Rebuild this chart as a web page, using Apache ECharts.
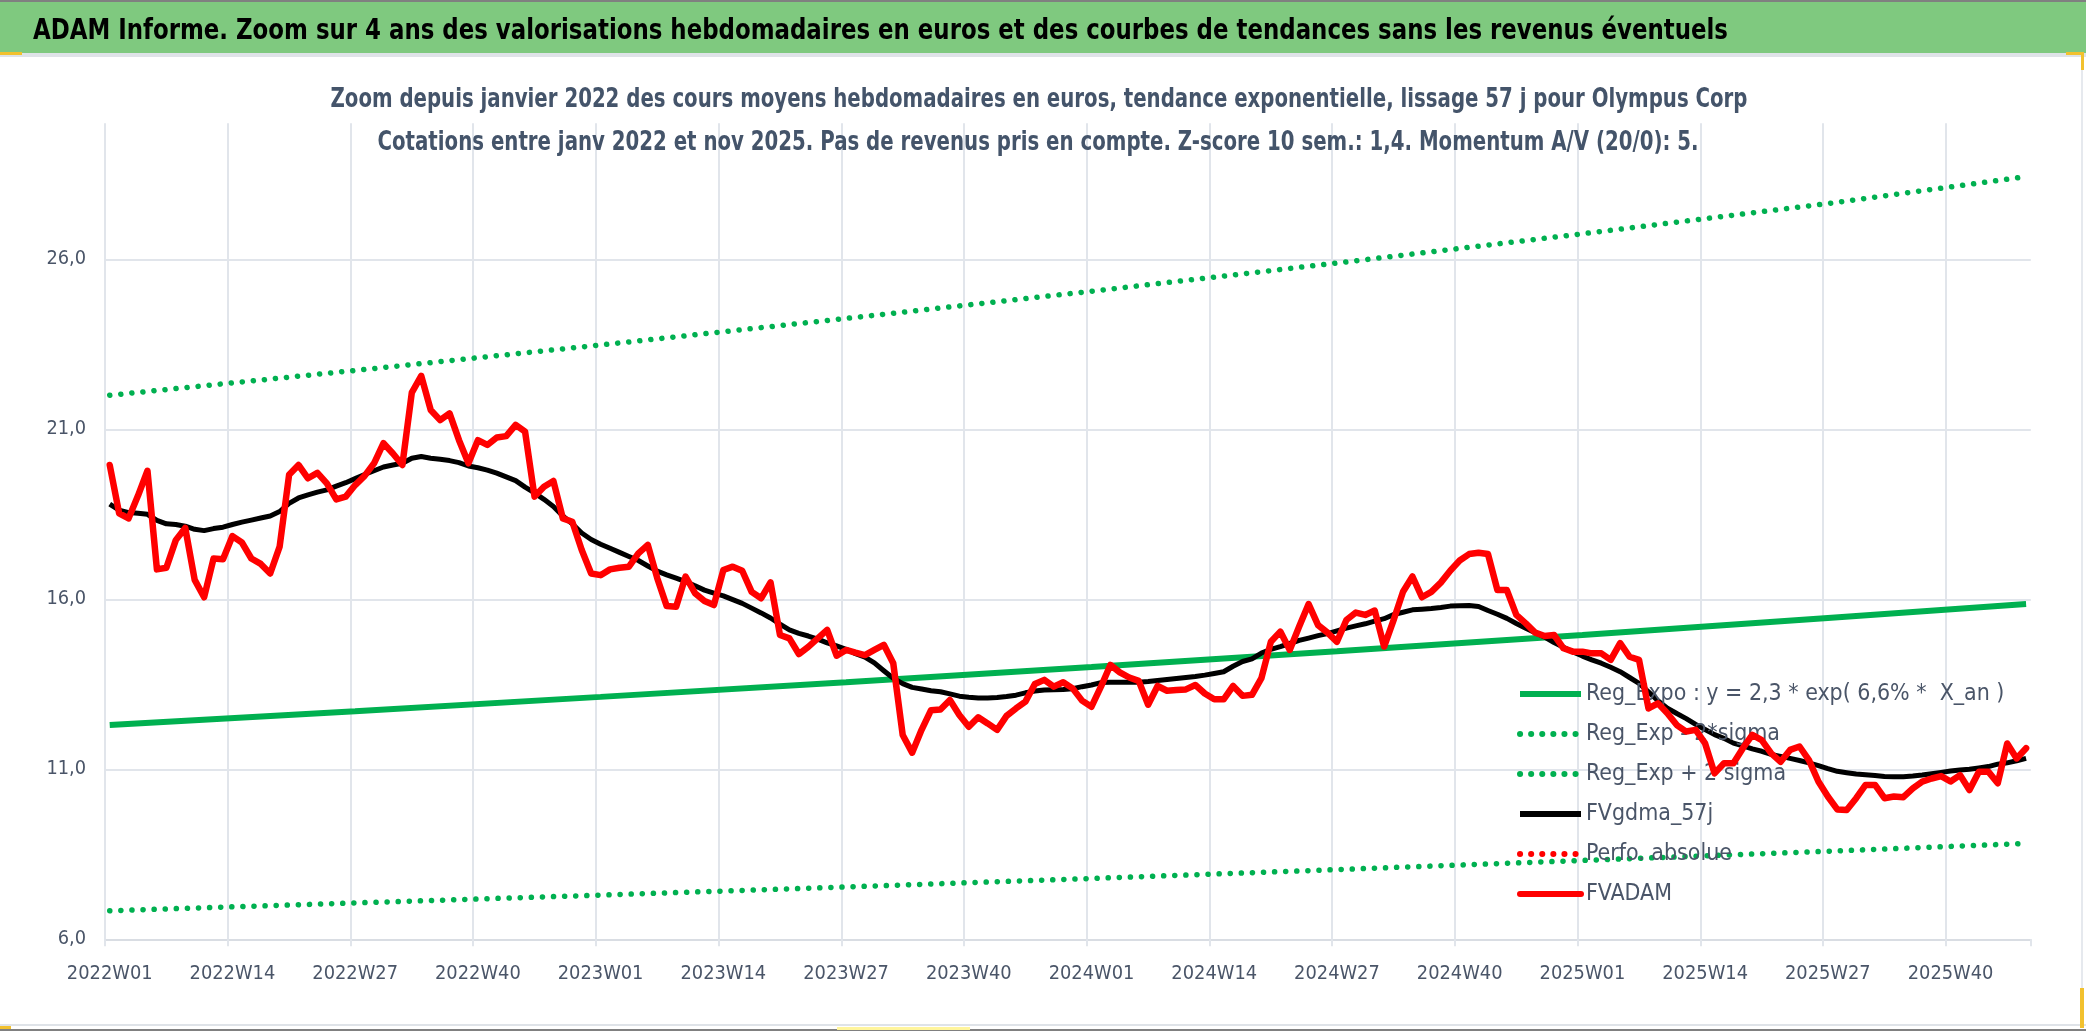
<!DOCTYPE html>
<html><head><meta charset="utf-8">
<script src="https://cdn.jsdelivr.net/npm/echarts@6/dist/echarts.min.js"></script>
<style>html,body{margin:0;padding:0;background:#fff}#c{width:2086px;height:1031px}</style>
</head><body><div id="c"></div>
<script>
// ---- categories (ISO weeks) ----
const years = [2022, 2023, 2024, 2025];
const weeksPerYear = 52;
const lastWeek2025 = 48;
const categories = [];
for (const y of years) {
  for (let w = 1; w <= weeksPerYear; w++) {
    if (y === 2025 && w > lastWeek2025) break;
    categories.push(y + 'W' + String(w).padStart(2, '0'));
  }
}
// ---- y axis ----
const yMin = 6, yMax = 30, yStep = 5;

// ---- weekly average price (FVADAM) ----
const fvadam = [
19.95,18.53,18.38,19.05,19.78,16.88,16.93,17.74,18.10,16.57,
16.06,17.20,17.18,17.86,17.67,17.20,17.04,16.76,17.55,19.66,
19.95,19.56,19.72,19.41,18.94,19.02,19.36,19.63,20.00,20.59,
20.29,19.95,22.08,22.57,21.57,21.27,21.47,20.68,20.00,20.68,
20.54,20.76,20.80,21.13,20.93,19.02,19.31,19.48,18.38,18.28,
17.45,16.76,16.71,16.88,16.93,16.96,17.35,17.60,16.62,15.80,
15.78,16.67,16.18,15.95,15.83,16.86,16.96,16.84,16.22,16.03,
16.50,14.95,14.85,14.39,14.60,14.85,15.10,14.34,14.51,14.43,
14.36,14.51,14.66,14.12,12.01,11.49,12.16,12.74,12.76,13.04,
12.60,12.25,12.53,12.35,12.16,12.57,12.79,12.99,13.51,13.63,
13.43,13.56,13.38,13.02,12.84,13.43,14.07,13.85,13.70,13.60,
12.90,13.45,13.31,13.33,13.35,13.48,13.23,13.06,13.06,13.45,
13.16,13.19,13.68,14.75,15.05,14.51,15.20,15.86,15.24,15.02,
14.75,15.39,15.61,15.54,15.67,14.61,15.39,16.22,16.67,16.06,
16.22,16.49,16.84,17.14,17.33,17.37,17.33,16.27,16.27,15.54,
15.29,15.02,14.92,14.95,14.56,14.46,14.46,14.41,14.41,14.22,
14.71,14.31,14.22,12.79,12.94,12.65,12.30,12.11,12.16,11.76,
10.88,11.18,11.18,11.62,12.01,11.86,11.47,11.22,11.57,11.67,
11.27,10.64,10.20,9.82,9.80,10.15,10.54,10.54,10.15,10.20,
10.18,10.44,10.64,10.73,10.80,10.64,10.83,10.39,10.93,10.93,
10.59,11.76,11.32,11.62
];

// ---- 57-day smoothing (FVgdma_57j) ----
const fvgdma = [
18.80,18.62,18.55,18.53,18.50,18.32,18.22,18.20,18.15,18.06,
18.02,18.08,18.12,18.20,18.27,18.33,18.39,18.45,18.58,18.82,
18.98,19.07,19.15,19.22,19.33,19.43,19.55,19.67,19.78,19.89,
19.95,20.00,20.15,20.20,20.15,20.12,20.08,20.02,19.92,19.87,
19.80,19.71,19.60,19.49,19.30,19.13,18.94,18.73,18.45,18.22,
17.95,17.76,17.62,17.50,17.38,17.26,17.14,16.98,16.83,16.72,
16.62,16.52,16.40,16.27,16.18,16.10,15.99,15.88,15.74,15.60,
15.45,15.27,15.10,15.00,14.92,14.83,14.72,14.63,14.53,14.40,
14.30,14.13,13.90,13.68,13.52,13.41,13.36,13.31,13.28,13.22,
13.15,13.12,13.10,13.10,13.11,13.14,13.18,13.25,13.30,13.33,
13.34,13.35,13.37,13.43,13.48,13.55,13.56,13.56,13.56,13.56,
13.58,13.61,13.64,13.67,13.70,13.73,13.77,13.82,13.87,14.03,
14.17,14.25,14.42,14.53,14.61,14.70,14.79,14.86,14.93,14.99,
15.07,15.15,15.22,15.28,15.36,15.43,15.55,15.62,15.69,15.71,
15.73,15.76,15.80,15.81,15.82,15.79,15.67,15.56,15.44,15.29,
15.15,15.02,14.89,14.73,14.59,14.45,14.33,14.22,14.12,14.00,
13.87,13.70,13.53,13.28,13.02,12.80,12.64,12.49,12.32,12.17,
12.02,11.91,11.77,11.69,11.60,11.53,11.44,11.38,11.32,11.26,
11.19,11.11,11.02,10.94,10.90,10.86,10.84,10.82,10.79,10.78,
10.78,10.80,10.83,10.87,10.91,10.95,10.98,11.00,11.04,11.08,
11.15,11.19,11.25,11.32
];

// ---- trend lines, read at a few week indices ----
const trendIdx = [0, 26, 52, 78, 104, 130, 156, 182, 203];
const regExpo  = [12.30, 12.71, 13.13, 13.56, 14.01, 14.47, 14.95, 15.45, 15.86];
const regLow   = [6.84, 7.07, 7.30, 7.54, 7.79, 8.05, 8.32, 8.59, 8.82];
const regHigh  = [22.00, 22.73, 23.48, 24.26, 25.06, 25.89, 26.75, 27.64, 28.43];
const perfoAbs = [];

const names = {
  expo: 'Reg_Expo : y = 2,3 * exp( 6,6% *  X_an )',
  low: 'Reg_Exp - 2*sigma',
  high: 'Reg_Exp + 2 sigma',
  gdma: 'FVgdma_57j',
  perfo: 'Perfo. absolue',
  adam: 'FVADAM'
};
const mainTitle = 'ADAM Informe. Zoom sur 4 ans des valorisations hebdomadaires en euros et des courbes de tendances sans les revenus éventuels';
const subTitle1 = 'Zoom depuis janvier 2022 des cours moyens hebdomadaires en euros, tendance exponentielle, lissage 57 j pour Olympus Corp';
const subTitle2 = 'Cotations entre janv 2022 et nov 2025. Pas de revenus pris en compte. Z-score 10 sem.: 1,4. Momentum A/V (20/0): 5.';

const FONT = "'Liberation Sans Narrow','Arial Narrow','DejaVu Sans Condensed','Liberation Sans',sans-serif";
const txtColor = '#4a5568';
const gridColor = '#e1e5eb';

// text measuring, to fit the narrow look of the original
const mctx = document.createElement('canvas').getContext('2d');
function measure(text, size, weight) {
  mctx.font = (weight || 'normal') + ' ' + size + 'px ' + FONT;
  return mctx.measureText(text).width;
}
function fitSize(text, target, weight) { return 40 * target / measure(text, 40, weight); }
function fitScale(text, size, target, weight) { return target / measure(text, size, weight); }

const legendFont = Math.min(26, 1.06 * fitSize(names.expo, 395));
const xFont = Math.min(23, 1.1 * fitSize('2022W01', 78));
const yFont = Math.min(23, 1.1 * fitSize('26,0', 36));
const sT = fitScale(mainTitle, 29, 1695, 'bold');
const sS1 = fitScale(subTitle1, 27, 1417, 'bold');
const sS2 = fitScale(subTitle2, 27, 1321, 'bold');

const pairs = (arr) => trendIdx.map((x, k) => [x, arr[k]]);
const dotted = [0.1, 11];
// vertical split lines: one per 13 weeks, none on the right border
const nVLines = Math.floor((categories.length - 1) / 13) + 1;
const vLineColors = new Array(nVLines).fill(gridColor).concat(['rgba(0,0,0,0)']);

const chart = echarts.init(document.getElementById('c'), null, {renderer: 'canvas'});
chart.setOption({
  animation: false,
  backgroundColor: '#ffffff',
  textStyle: {fontFamily: FONT},
  graphic: [
    {type: 'rect', z: -10, shape: {x: 0, y: 0, width: 2086, height: 53}, style: {fill: '#7fc97f'}, silent: true},
    {type: 'rect', z: -9, shape: {x: 0, y: 0, width: 2086, height: 2}, style: {fill: '#808080'}, silent: true},
    {type: 'rect', z: -9, shape: {x: 0, y: 53, width: 2086, height: 4}, style: {fill: '#dfe3e8'}, silent: true},
    {type: 'rect', z: -9, shape: {x: 0, y: 1024, width: 2086, height: 2}, style: {fill: '#dfe3e8'}, silent: true},
    {type: 'rect', z: -9, shape: {x: 0, y: 1029, width: 2086, height: 2}, style: {fill: '#808080'}, silent: true},
    {type: 'rect', z: -9, shape: {x: 2081, y: 57, width: 2, height: 967}, style: {fill: '#e6e9ee'}, silent: true},
    {type: 'rect', z: -8, shape: {x: 0, y: 52, width: 22, height: 3}, style: {fill: '#f2c12e'}, silent: true},
    {type: 'rect', z: -8, shape: {x: 2066, y: 52, width: 18, height: 3}, style: {fill: '#f2c12e'}, silent: true},
    {type: 'rect', z: -8, shape: {x: 2081, y: 52, width: 3, height: 18}, style: {fill: '#f2c12e'}, silent: true},
    {type: 'rect', z: -8, shape: {x: 2080, y: 988, width: 4, height: 40}, style: {fill: '#f2c12e'}, silent: true},
    {type: 'rect', z: -8, shape: {x: 0, y: 1026, width: 11, height: 3}, style: {fill: '#f2c12e'}, silent: true},
    {type: 'rect', z: -8, shape: {x: 837, y: 1027, width: 133, height: 3}, style: {fill: '#fff59d'}, silent: true},
    {type: 'text', z: 10, x: 33, y: 31, scaleX: sT, silent: true,
     style: {text: mainTitle, fontFamily: FONT, fontSize: 29, fontWeight: 'bold', fill: '#000000', align: 'left', verticalAlign: 'middle'}},
    {type: 'text', z: 10, x: 1039, y: 99.5, scaleX: sS1, silent: true,
     style: {text: subTitle1, fontFamily: FONT, fontSize: 27, fontWeight: 'bold', fill: '#44546a', align: 'center', verticalAlign: 'middle'}},
    {type: 'text', z: 10, x: 1038, y: 143, scaleX: sS2, silent: true,
     style: {text: subTitle2, fontFamily: FONT, fontSize: 27, fontWeight: 'bold', fill: '#44546a', align: 'center', verticalAlign: 'middle'}}
  ],
  legend: {
    orient: 'vertical',
    left: 1517, top: 680, padding: 0,
    itemWidth: 61, itemHeight: 14, itemGap: 12,
    selectedMode: false,
    textStyle: {fontFamily: FONT, fontSize: legendFont, color: txtColor, lineHeight: 28},
    itemStyle: {opacity: 0},
    lineStyle: {width: 6},
    data: [names.expo, names.low, names.high, names.gdma, names.perfo, names.adam]
  },
  grid: {left: 105, right: 55.2, top: 123.3, bottom: 91.7, containLabel: false},
  xAxis: {
    type: 'category',
    data: categories,
    boundaryGap: true,
    axisLine: {show: true, lineStyle: {color: '#d9dde3', width: 2}},
    axisTick: {show: true, interval: 12, length: 7, lineStyle: {color: gridColor, width: 2}},
    axisLabel: {interval: 12, margin: 25, fontFamily: FONT, fontSize: xFont, color: txtColor},
    splitLine: {show: true, interval: 12, lineStyle: {color: vLineColors, width: 2}}
  },
  yAxis: {
    type: 'value',
    min: yMin, max: yMax, interval: yStep,
    axisLine: {show: false},
    axisTick: {show: false},
    axisLabel: {
      margin: 19, fontFamily: FONT, fontSize: yFont, color: txtColor, showMaxLabel: false,
      formatter: (v) => v.toFixed(1).replace('.', ',')
    },
    splitLine: {show: true, lineStyle: {color: [gridColor, gridColor, gridColor, gridColor, gridColor, 'rgba(0,0,0,0)'], width: 2}}
  },
  series: [
    {name: names.expo, type: 'line', data: pairs(regExpo), symbol: 'none', z: 2,
     itemStyle: {color: '#00b050'}, lineStyle: {color: '#00b050', width: 6}},
    {name: names.low, type: 'line', data: pairs(regLow), symbol: 'none', z: 2,
     itemStyle: {color: '#00b050'}, lineStyle: {color: '#00b050', width: 5.5, type: dotted, cap: 'round'}},
    {name: names.high, type: 'line', data: pairs(regHigh), symbol: 'none', z: 2,
     itemStyle: {color: '#00b050'}, lineStyle: {color: '#00b050', width: 5.5, type: dotted, cap: 'round'}},
    {name: names.gdma, type: 'line', data: fvgdma, symbol: 'none', z: 3,
     itemStyle: {color: '#000000'}, lineStyle: {color: '#000000', width: 5, join: 'round'}},
    {name: names.perfo, type: 'line', data: perfoAbs, symbol: 'none', z: 3,
     itemStyle: {color: '#ff0000'}, lineStyle: {color: '#ff0000', width: 4.5, type: dotted, cap: 'round'}},
    {name: names.adam, type: 'line', data: fvadam, symbol: 'none', z: 4,
     itemStyle: {color: '#ff0000'}, lineStyle: {color: '#ff0000', width: 6.5, join: 'round', cap: 'round'}}
  ]
});
</script></body></html>
